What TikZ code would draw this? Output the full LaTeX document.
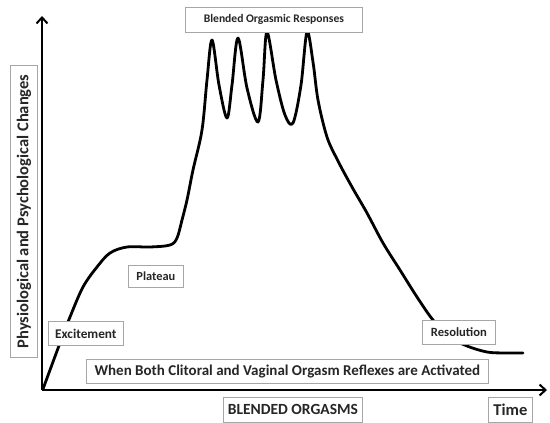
\documentclass[tikz,border=0pt]{standalone}
\usepackage{fontspec}
\setmainfont{Carlito}
\usetikzlibrary{arrows.meta}
\newcommand{\fsz}[1]{\bfseries\fontsize{#1}{#1}\selectfont\color{black!85}}
\begin{document}
\begin{tikzpicture}[x=1pt,y=-1pt,
  lbl/.style={draw=gray!70, line width=0.8pt, fill=white, inner sep=0pt},
  axis/.style={line width=2.6pt, -{Straight Barb[length=6pt,width=11pt,line width=2pt]}},
  curve/.style={line width=2.8pt, line cap=round, line join=round}]
\useasboundingbox (0,0) rectangle (550,423);
% axes
\coordinate (O) at (42,390);
\coordinate (Ytop) at (42,16);
\coordinate (Xend) at (547,390);
\draw[axis] (O) -- (Ytop);
\draw[axis] (O) -- (Xend);
% curve
\draw[curve] plot[smooth, tension=0.55] coordinates {
 (43,389) (60,343) (70,317) (83,287) (97,267) (110,253) (127,247) (150,247) (170,245)
 (177,238) (182,220) (187,200) (193,170) (202,130) (207,80) (212,40) (219,85) (227,118) (232,85) (238,38)
 (247,88) (258,122) (263,80) (267,32) (276,80) (285,115) (293,123) (301,85) (307,32)
 (313,62) (318,100) (327,137) (338,161) (352,187) (367,213) (383,243) (400,270) (417,297) (433,320)
 (450,337) (467,346) (487,352) (505,353) (523,353)};
% labels
\node[lbl, minimum width=27pt, minimum height=292pt, anchor=north west] (ylab) at (10,65) {};
\node[rotate=90, font=\fsz{16.5}] (ylabt) at (ylab.center) {Physiological and Psychological Changes};
\node[lbl, minimum width=177pt, minimum height=25pt, anchor=north west, font=\fsz{11.6}] (peak) at (185,7) {Blended Orgasmic Responses};
\node[lbl, minimum width=55pt, minimum height=22pt, anchor=north west, font=\fsz{12.4}] (plat) at (128,265) {Plateau};
\node[lbl, minimum width=75pt, minimum height=24pt, anchor=north west, font=\fsz{13.3}] (exc) at (48,321) {Excitement};
\node[lbl, minimum width=73pt, minimum height=24pt, anchor=north west, font=\fsz{12.6}] (res) at (422,320) {Resolution};
\node[lbl, minimum width=402pt, minimum height=24pt, anchor=north west, font=\fsz{15}] (when) at (86,359) {When Both Clitoral and Vaginal Orgasm Reflexes are Activated};
\node[lbl, minimum width=139pt, minimum height=25pt, anchor=north west, font=\fsz{15.5}] (blend) at (223,397) {BLENDED ORGASMS};
\node[lbl, minimum width=44pt, minimum height=25pt, anchor=north west, font=\fsz{16.5}] (time) at (488,397) {Time};
\end{tikzpicture}
\end{document}
